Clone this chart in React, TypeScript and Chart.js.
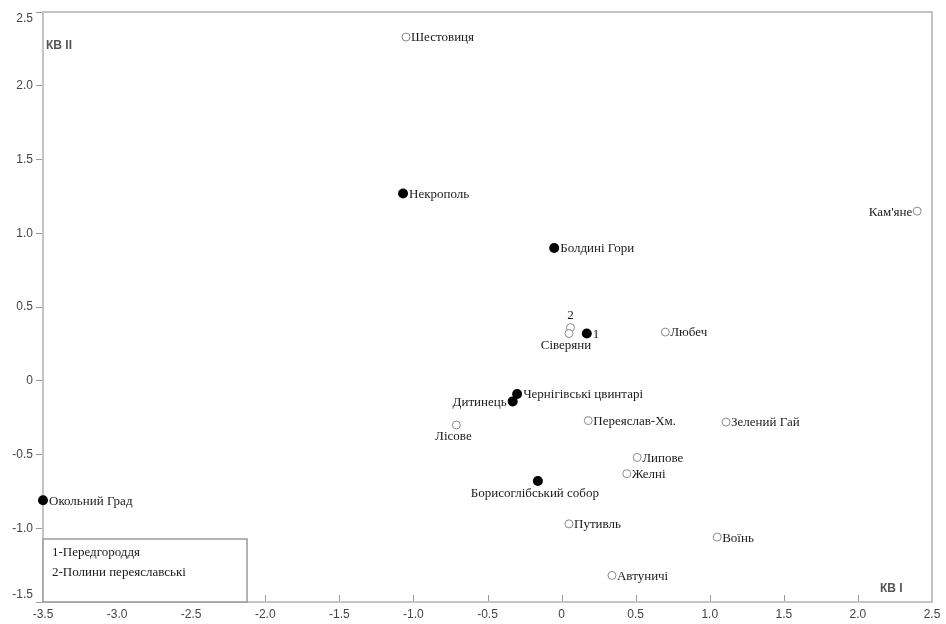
import React, { useEffect, useRef } from 'react';
import { Chart, registerables } from 'chart.js';

Chart.register(...registerables);

// Filled markers (group 1)
const closedNames = ['Некрополь', 'Болдині Гори', '1', 'Чернігівські цвинтарі', 'Дитинець', 'Борисоглібський собор', 'Окольний Град'];
const closedX = [-1.07, -0.05, 0.17, -0.30, -0.33, -0.16, -3.5];
const closedY = [1.27, 0.90, 0.32, -0.09, -0.14, -0.68, -0.81];

// Open markers (group 2)
const openNames = ['Шестовиця', "Кам'яне", 'Любеч', '2', 'Сіверяни', 'Переяслав-Хм.', 'Зелений Гай', 'Лісове', 'Липове', 'Желні', 'Путивль', 'Воїнь', 'Автуничі'];
const openX = [-1.05, 2.40, 0.70, 0.06, 0.05, 0.18, 1.11, -0.71, 0.51, 0.44, 0.05, 1.05, 0.34];
const openY = [2.33, 1.15, 0.33, 0.36, 0.32, -0.27, -0.28, -0.30, -0.52, -0.63, -0.97, -1.06, -1.32];

const xTicks = [-3.5, -3.0, -2.5, -2.0, -1.5, -1.0, -0.5, 0, 0.5, 1.0, 1.5, 2.0, 2.5];
const yTicks = [-1.5, -1.0, -0.5, 0, 0.5, 1.0, 1.5, 2.0, 2.5];

const legendLines = ['1-Передгороддя', '2-Полини переяславські'];
const axisTitleX = 'КВ I';
const axisTitleY = 'КВ II';

type Side = 'right' | 'left' | 'above' | 'below';
const labelSide: Record<string, Side> = {
  'Дитинець': 'left',
  'Борисоглібський собор': 'below',
  "Кам'яне": 'left',
  '2': 'above',
  'Сіверяни': 'below',
  'Лісове': 'below',
};

const fmt = (v: number) => (v === 0 ? '0' : v.toFixed(1));
const tickFont = '12px "Liberation Sans", Arial, sans-serif';
const tickColor = '#444';

const overlay = {
  id: 'overlay',
  beforeDatasetsDraw(chart: any) {
    const { ctx, chartArea: a, scales } = chart;
    ctx.save();
    // inner tick marks on x axis
    ctx.strokeStyle = '#999';
    ctx.lineWidth = 1;
    xTicks.forEach((v) => {
      const px = Math.round(scales.x.getPixelForValue(v)) + 0.5;
      ctx.beginPath();
      ctx.moveTo(px, a.bottom);
      ctx.lineTo(px, a.bottom - 7);
      ctx.stroke();
    });
    // frame
    ctx.strokeStyle = '#c4c4c4';
    ctx.lineWidth = 2;
    ctx.strokeRect(a.left, a.top, a.right - a.left, a.bottom - a.top);
    // end labels of y axis, nudged inward as in the original
    ctx.font = tickFont;
    ctx.fillStyle = tickColor;
    ctx.textAlign = 'right';
    ctx.textBaseline = 'middle';
    const yMax = yTicks[yTicks.length - 1];
    const yMin = yTicks[0];
    ctx.fillText(fmt(yMax), a.left - 10, scales.y.getPixelForValue(yMax) + 7);
    ctx.fillText(fmt(yMin), a.left - 10, scales.y.getPixelForValue(yMin) - 7);
    ctx.restore();
  },
  afterDatasetsDraw(chart: any) {
    const { ctx, chartArea: a } = chart;
    ctx.save();
    ctx.font = '13px "Liberation Serif", "Times New Roman", serif';
    ctx.fillStyle = '#1a1a1a';
    const groups = [closedNames, openNames];
    groups.forEach((names, d) => {
      const meta = chart.getDatasetMeta(d);
      meta.data.forEach((el: any, i: number) => {
        const name = names[i];
        const side = labelSide[name] || 'right';
        const r = d === 0 ? 5 : 4;
        ctx.textBaseline = 'middle';
        if (side === 'right') {
          ctx.textAlign = 'left';
          ctx.fillText(name, el.x + r + 1, el.y + 1);
        } else if (side === 'left') {
          ctx.textAlign = 'right';
          ctx.fillText(name, el.x - r - 1, el.y + 1);
        } else if (side === 'below') {
          ctx.textAlign = 'center';
          ctx.fillText(name, el.x - 3, el.y + r + 8);
        } else {
          ctx.textAlign = 'center';
          ctx.fillText(name, el.x, el.y - r - 8);
        }
      });
    });
    // axis titles
    ctx.font = 'bold 12px "Liberation Sans", Arial, sans-serif';
    ctx.fillStyle = '#555';
    ctx.textAlign = 'left';
    ctx.textBaseline = 'middle';
    ctx.fillText(axisTitleY, a.left + 3, a.top + 34);
    ctx.fillText(axisTitleX, a.right - 52, a.bottom - 13);
    // legend box
    const bx = a.left;
    const by = 539;
    const bw = 204;
    const bh = a.bottom - by;
    ctx.fillStyle = '#fff';
    ctx.fillRect(bx, by, bw, bh);
    ctx.strokeStyle = '#999';
    ctx.lineWidth = 1.5;
    ctx.strokeRect(bx, by, bw, bh);
    ctx.font = '13px "Liberation Serif", "Times New Roman", serif';
    ctx.fillStyle = '#1a1a1a';
    legendLines.forEach((t, k) => {
      ctx.fillText(t, bx + 9, by + 14 + k * 20);
    });
    ctx.restore();
  },
};

export default function App() {
  const ref = useRef<HTMLCanvasElement>(null);
  useEffect(() => {
    if (!ref.current) return;
    const yMax = yTicks[yTicks.length - 1];
    const yMin = yTicks[0];
    const chart = new Chart(ref.current, {
      type: 'scatter',
      data: {
        datasets: [
          {
            label: 'closed',
            data: closedX.map((x, i) => ({ x, y: closedY[i] })),
            pointRadius: 5,
            pointBackgroundColor: '#000',
            pointBorderColor: '#000',
            pointBorderWidth: 0,
            clip: false,
          } as any,
          {
            label: 'open',
            data: openX.map((x, i) => ({ x, y: openY[i] })),
            pointRadius: 4,
            pointBackgroundColor: '#fff',
            pointBorderColor: '#8a8a8a',
            pointBorderWidth: 1,
            clip: false,
          } as any,
        ],
      },
      options: {
        responsive: false,
        animation: false,
        layout: { padding: { top: 12, right: 14, left: 0, bottom: 0 } },
        plugins: { legend: { display: false }, tooltip: { enabled: false } },
        scales: {
          x: {
            type: 'linear',
            min: xTicks[0],
            max: xTicks[xTicks.length - 1],
            afterBuildTicks: (s: any) => {
              s.ticks = xTicks.map((v) => ({ value: v }));
            },
            afterFit: (s: any) => {
              s.height = 22;
            },
            grid: { display: false, drawTicks: false },
            border: { display: false },
            ticks: {
              padding: 5,
              color: tickColor,
              font: { family: '"Liberation Sans", Arial, sans-serif', size: 12 },
              callback: (v: any) => fmt(Number(v)),
              maxRotation: 0,
              autoSkip: false,
            },
          },
          y: {
            type: 'linear',
            min: yMin,
            max: yMax,
            afterBuildTicks: (s: any) => {
              s.ticks = yTicks.map((v) => ({ value: v }));
            },
            afterFit: (s: any) => {
              s.width = 43;
            },
            grid: { drawOnChartArea: false, drawTicks: true, tickLength: 7, color: '#999' },
            border: { display: false },
            ticks: {
              padding: 3,
              color: tickColor,
              font: { family: '"Liberation Sans", Arial, sans-serif', size: 12 },
              callback: (v: any) => {
                const n = Number(v);
                return n === yMax || n === yMin ? '' : fmt(n);
              },
              autoSkip: false,
            },
          },
        },
      },
      plugins: [overlay],
    });
    return () => chart.destroy();
  }, []);
  return (
    <div style={{ position: 'absolute', left: 0, top: 0, width: 946, height: 624, background: '#fff' }}>
      <canvas ref={ref} width={946} height={624} style={{ width: 946, height: 624 }} />
    </div>
  );
}
